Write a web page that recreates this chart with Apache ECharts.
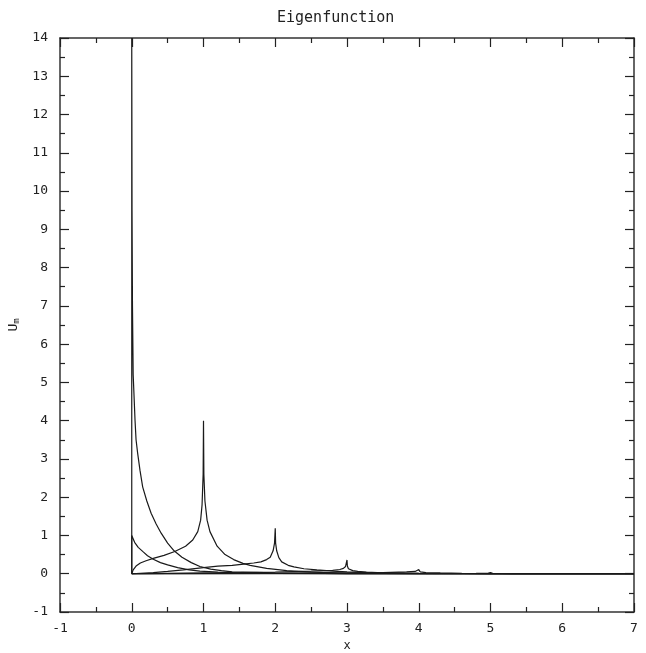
<!DOCTYPE html>
<html>
<head>
<meta charset="utf-8">
<title>Eigenfunction</title>
<script src="https://cdn.jsdelivr.net/npm/echarts@6/dist/echarts.min.js"></script>
<style>
html,body{margin:0;padding:0;background:#fff;}
#main{width:646px;height:653px;}
</style>
</head>
<body>
<div id="main"></div>
<script>
// points, [x, U]
var u0 = [[0,0],[0,14],[0.004,9.5],[0.01,7],[0.02,5.2],[0.046,4.0],[0.06,3.5],[0.082,3.15],[0.115,2.7],[0.152,2.27],[0.21,1.9],
	[0.27,1.58],[0.34,1.3],[0.41,1.06],[0.5,0.8],[0.59,0.6],[0.7,0.43],[0.83,0.29],[0.95,0.19],[1.1,0.12],[1.25,0.08],[1.4,0.05],
	[2,0.02],[3,0.005],[4,0],[7,0]];
var ua = [[0,0],[0,1.0],[0.04,0.82],[0.09,0.69],[0.16,0.57],[0.22,0.47],[0.3,0.38],[0.4,0.29],[0.5,0.23],[0.64,0.16],
	[0.8,0.1],[0.95,0.07],[1.2,0.04],[1.5,0.02],[2,0.01],[3,0],[7,0]];
var u1 = [[0,0],[0.02,0.1],[0.06,0.2],[0.12,0.28],[0.2,0.34],[0.3,0.4],[0.45,0.48],[0.6,0.58],[0.75,0.72],[0.85,0.88],
	[0.92,1.1],[0.96,1.4],[0.98,1.8],[0.995,2.6],[1.0,4.0],[1.005,2.6],[1.02,1.9],[1.05,1.4],[1.09,1.1],[1.19,0.72],
	[1.3,0.5],[1.42,0.37],[1.55,0.27],[1.65,0.22],[1.88,0.14],[2.16,0.08],[2.5,0.04],[3,0.015],[4,0],[7,0]];
var u2 = [[0,0],[0.3,0.03],[0.5,0.06],[0.72,0.1],[1.0,0.16],[1.2,0.2],[1.4,0.22],[1.56,0.25],[1.7,0.28],[1.8,0.31],
	[1.88,0.37],[1.93,0.43],[1.97,0.6],[1.99,0.8],[2.0,1.19],[2.005,0.8],[2.02,0.6],[2.05,0.42],[2.09,0.31],[2.18,0.22],
	[2.26,0.18],[2.4,0.13],[2.58,0.1],[2.8,0.07],[3,0.05],[3.3,0.03],[3.6,0.02],[4,0.01],[5,0],[7,0]];
var u3 = [[0,0],[0.5,0.01],[1,0.02],[1.5,0.03],[2,0.045],[2.5,0.07],[2.8,0.09],[2.9,0.11],[2.95,0.14],[2.98,0.19],
	[3.0,0.36],[3.005,0.2],[3.02,0.13],[3.08,0.08],[3.15,0.06],[3.27,0.04],[3.5,0.025],[3.8,0.015],[4,0.01],[5,0],[7,0]];
var u4 = [[0,0],[2,0.01],[3,0.02],[3.5,0.03],[3.83,0.05],[3.95,0.06],[4.0,0.11],[4.02,0.05],[4.1,0.03],[4.3,0.02],
	[4.6,0.01],[5,0.005],[7,0]];
var u5 = [[0,0],[4,0.005],[4.8,0.01],[4.97,0.015],[5.0,0.03],[5.03,0.012],[5.3,0.005],[6,0],[7,0]];
var curves = [u0, ua, u1, u2, u3, u4, u5];

var xMin = -1, xMax = 7;
var yMin = -1, yMax = 14;

var font = 'DejaVu Sans Mono';

function frameAxis(pos, isX, labels){
	return {
		type: 'value',
		position: pos,
		min: isX ? xMin : yMin,
		max: isX ? xMax : yMax,
		interval: 1,
		axisLine: {show: true, onZero: false, lineStyle: {color: '#333', width: 1.5}},
		axisTick: {show: true, inside: true, length: 9, lineStyle: {color: '#222', width: 1.2}},
		minorTick: {show: true, splitNumber: 2, length: 5, lineStyle: {color: '#222', width: 1.2}},
		splitLine: {show: false},
		axisLabel: {show: labels, color: '#222', fontFamily: font, fontSize: 13, margin: isX ? 10 : 12}
	};
}

var myChart = echarts.init(document.getElementById('main'));
var xBottom = frameAxis('bottom', true, true);
xBottom.name = 'x';
xBottom.nameLocation = 'middle';
xBottom.nameGap = 25;
xBottom.nameTextStyle = {color: '#222', fontFamily: font, fontSize: 12};
var yLeft = frameAxis('left', false, true);
yLeft.name = 'U{s|m}';
yLeft.nameLocation = 'middle';
yLeft.nameRotate = 90;
yLeft.nameGap = 36;
yLeft.nameTextStyle = {color: '#222', fontFamily: font, fontSize: 13, rich: {s: {fontFamily: font, fontSize: 9, color: '#222', verticalAlign: 'bottom', padding: [6,0,0,0]}}};

var series = [];
for (var i = 0; i < curves.length; i++) {
	series.push({
		type: 'line',
		data: curves[i],
		showSymbol: false,
		smooth: false,
		clip: true,
		lineStyle: {color: '#1a1a1a', width: 1.2},
		animation: false
	});
}

var option = {
	animation: false,
	backgroundColor: '#fff',
	title: {
		text: 'Eigenfunction',
		left: 272,
		top: 6,
		textStyle: {color: '#222', fontFamily: font, fontSize: 15, fontWeight: 'normal'}
	},
	grid: {left: 60, right: 12, top: 38, bottom: 41, containLabel: false, outerBoundsMode: 'none'},
	xAxis: [xBottom, frameAxis('top', true, false)],
	yAxis: [yLeft, frameAxis('right', false, false)],
	series: series
};
myChart.setOption(option);
</script>
</body>
</html>
